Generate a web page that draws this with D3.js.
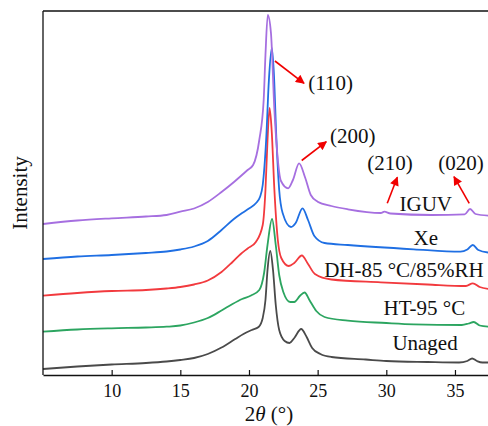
<html>
<head>
<meta charset="utf-8">
<script src="https://d3js.org/d3.v7.min.js"></script>
<style>
body { margin: 0; background: white; }
text { font-family: "Liberation Serif", "Times New Roman", serif; fill: #111; }
</style>
</head>
<body>
<div id="xrd"></div>
<script>
// 2theta (deg), intensity (arb. units, stacked with offsets already in)
var unaged = [[5,6],[7.5,8.5],[10,10.5],[12.5,12],[14,13.5],[15,15],[16,17],[17,21],[18,27.5],[19,36],[19.6,41],[20.2,45],[20.7,48],[21.0,57],[21.2,75],[21.35,105],[21.55,124],[21.75,105],[21.95,70],[22.2,45],[22.6,34],[22.95,32],[23.3,37],[23.8,46],[24.2,38],[24.6,27],[25.2,21],[26,18],[28.5,15.5],[30,14],[33,13],[35.3,12.5],[35.9,14],[36.25,16.5],[36.6,14],[37,12.5],[37.5,12.5]];
var ht95 = [[5,43.3],[7.5,45.5],[10,46.7],[12.5,47.5],[14,48.3],[15,49.5],[16,52.5],[17,57],[18,64.5],[18.8,71],[19.5,76],[20.15,79.5],[20.75,85],[21.1,102],[21.35,130],[21.68,156],[21.95,130],[22.2,100],[22.5,83],[23.0,73],[23.3,73],[23.7,79],[24.05,82.5],[24.4,75],[24.9,64],[25.5,58],[27.2,54.3],[30,52],[32,50.7],[35.5,50],[36.0,51.5],[36.37,53],[36.8,49.5],[37.5,48.3]];
var dh85 = [[5,79.3],[7.5,82],[10,84],[12.5,85],[14,86.5],[15,88],[16,90.5],[17,94.5],[18,103],[18.8,113],[19.4,121],[19.9,126.5],[20.5,133],[21.0,150],[21.2,185],[21.35,235],[21.5,267],[21.65,245],[21.85,185],[22.1,135],[22.35,117],[22.9,109],[23.3,112],[23.85,119.5],[24.3,111],[24.8,101],[26,95.5],[29.6,92.7],[33,90.5],[35.8,89],[36.3,91.7],[36.8,88],[37.5,86]];
var xe = [[5,116],[7.5,118.5],[10,120],[12.5,122],[14,123.5],[15,125.5],[16,128.5],[17,134],[18,145],[18.9,156],[19.5,162],[20.0,166.5],[20.5,171.7],[20.8,178],[21.0,190],[21.25,235],[21.45,295],[21.66,327],[21.8,305],[22.0,235],[22.2,185],[22.45,162],[23.06,148],[23.4,152],[23.9,166.7],[24.3,155],[24.76,139],[25.5,132],[27.2,130],[32,125.7],[35.4,123.3],[35.9,125.5],[36.3,130],[36.7,125],[37.5,122.3]];
var iguv = [[5,151],[7.5,154.5],[10,156.7],[12.5,158.5],[14,160],[15,163.3],[16,166.5],[17,173],[18,183],[18.93,193.3],[19.9,205],[20.3,210],[20.75,235],[21.07,275],[21.2,320],[21.37,360],[21.6,342],[21.85,265],[22.04,225],[22.33,194],[22.85,186.7],[23.2,195],[23.65,211.7],[24.1,197],[24.5,180],[25.0,173.3],[26,169],[27.2,165.7],[29.6,162],[29.86,163.3],[30.3,161.5],[33.3,160],[35.7,160.7],[36.1,166],[36.5,161],[37.5,159.3]];

var seriesNames = ["Unaged", "HT-95 °C", "DH-85 °C/85%RH", "Xe", "IGUV"];
var seriesColors = ["#4a4a4a", "#2ca560", "#f23a3e", "#1f6fe3", "#a66fe0"];
var seriesData = [unaged, ht95, dh85, xe, iguv];
// label anchor: [2theta, intensity]
var labelPos = [[32.82, 25], [32.77, 60], [31.28, 98.3], [32.87, 130], [32.87, 164.3]];

var xTicks = [10, 15, 20, 25, 30, 35];

// peak index annotations: text, text position, arrow start, arrow tip (all in data units)
var peakLabels = ["(110)", "(200)", "(210)", "(020)"];
var peakTextPos = [[24.32, 285], [25.9, 232], [28.62, 205], [33.79, 205]];
var arrowFrom = [[21.89, 314], [23.84, 214.5], [30.07, 171.7], [36.04, 171.7]];
var arrowTo = [[24.01, 291.7], [25.63, 233.3], [30.8, 197.7], [34.93, 198.3]];

var W = 488, H = 426;
var plotL = 43, plotR = 489.3, plotT = 11, plotB = 375;

var svg = d3.select("#xrd")
  .append("svg")
    .attr("width", W)
    .attr("height", H);

var x = d3.scaleLinear()
    .domain([5, 37.5])
    .range([plotL, plotR]);

var y = d3.scaleLinear()
    .domain([0, 364])
    .range([plotB, plotT]);

var defs = svg.append("defs");
defs.append("clipPath")
    .attr("id", "plotclip")
  .append("rect")
    .attr("x", plotL)
    .attr("y", plotT)
    .attr("width", plotR - plotL)
    .attr("height", plotB - plotT);

defs.append("marker")
    .attr("id", "arrowhead")
    .attr("viewBox", "0 0 10 10")
    .attr("refX", 9)
    .attr("refY", 5)
    .attr("markerUnits", "userSpaceOnUse")
    .attr("markerWidth", 11)
    .attr("markerHeight", 9)
    .attr("orient", "auto")
  .append("path")
    .attr("d", "M0,0 L10,5 L0,10 Z")
    .style("fill", "#f00000");

var line = d3.line()
    .x(function(d) { return x(d[0]); })
    .y(function(d) { return y(d[1]); })
    .curve(d3.curveMonotoneX);

svg.append("g")
    .attr("clip-path", "url(#plotclip)")
  .selectAll("path")
  .data(seriesData)
  .enter()
  .append("path")
    .attr("d", line)
    .style("fill", "none")
    .style("stroke", function(d, i) { return seriesColors[i]; })
    .style("stroke-width", 1.8)
    .style("stroke-linejoin", "round");

// frame
svg.append("line")
    .attr("x1", plotL).attr("x2", plotL)
    .attr("y1", plotT).attr("y2", plotB)
    .style("stroke", "#111").style("stroke-width", 1.3);
svg.append("line")
    .attr("x1", plotL).attr("x2", W)
    .attr("y1", plotT).attr("y2", plotT)
    .style("stroke", "#111").style("stroke-width", 1.3);

var xAxis = svg.append("g")
    .attr("transform", "translate(0," + plotB + ")")
    .call(d3.axisBottom(x).tickValues(xTicks).tickSizeInner(-5).tickSizeOuter(0).tickPadding(9));
xAxis.select(".domain").style("stroke", "#111").style("stroke-width", 1.3);
xAxis.selectAll(".tick line").style("stroke", "#111").style("stroke-width", 1.2);
xAxis.selectAll(".tick text")
    .style("font-family", "Liberation Serif, serif")
    .style("font-size", "18px")
    .style("fill", "#111");

// axis titles
var xt = svg.append("text")
    .attr("x", 269)
    .attr("y", 421)
    .attr("text-anchor", "middle")
    .style("font-size", "21px");
xt.append("tspan").text("2");
xt.append("tspan").style("font-style", "italic").text("θ");
xt.append("tspan").text(" (°)");

svg.append("text")
    .attr("transform", "translate(27," + ((plotT + plotB) / 2) + ") rotate(-90)")
    .attr("text-anchor", "middle")
    .style("font-size", "21px")
    .text("Intensity");

// series labels
svg.selectAll(".slabel")
  .data(seriesNames)
  .enter()
  .append("text")
    .attr("class", "slabel")
    .attr("x", function(d, i) { return x(labelPos[i][0]); })
    .attr("y", function(d, i) { return y(labelPos[i][1]); })
    .attr("text-anchor", "middle")
    .style("font-size", "21px")
    .text(function(d) { return d; });

// peak annotations
svg.selectAll(".arrow")
  .data(peakLabels)
  .enter()
  .append("line")
    .attr("class", "arrow")
    .attr("x1", function(d, i) { return x(arrowFrom[i][0]); })
    .attr("y1", function(d, i) { return y(arrowFrom[i][1]); })
    .attr("x2", function(d, i) { return x(arrowTo[i][0]); })
    .attr("y2", function(d, i) { return y(arrowTo[i][1]); })
    .style("stroke", "#f00000")
    .style("stroke-width", 1.6)
    .attr("marker-end", "url(#arrowhead)");

svg.selectAll(".plabel")
  .data(peakLabels)
  .enter()
  .append("text")
    .attr("class", "plabel")
    .attr("x", function(d, i) { return x(peakTextPos[i][0]); })
    .attr("y", function(d, i) { return y(peakTextPos[i][1]); })
    .style("font-size", "21px")
    .text(function(d) { return d; });
</script>
</body>
</html>
